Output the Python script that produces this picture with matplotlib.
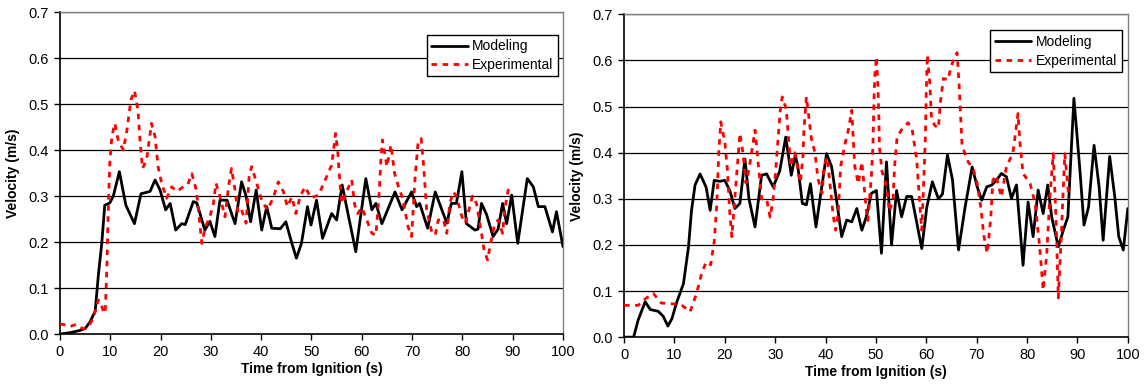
import matplotlib
matplotlib.use("Agg")
import matplotlib.pyplot as plt

plt.rcParams["font.family"] = ["Liberation Sans", "DejaVu Sans"]

# left panel
left_model_t = [0, 2, 4, 5, 6, 7, 7.6, 8.3, 8.9, 9.9, 10.6, 11.8, 13.1, 14.8, 16.1, 17.9, 18.9, 19.9,
                21.0, 21.9, 23.0, 24.2, 24.9, 26.5, 27.2, 28.8, 29.8, 30.8, 31.8, 33.2, 34.8, 36.1,
                37.0, 37.9, 39.0, 40.1, 41.1, 42.1, 43.8, 44.9, 46.1, 47.0, 48.0, 49.2, 49.9, 51.0,
                52.2, 54.0, 55.0, 56.1, 57.1, 58.8, 60.8, 62.0, 62.8, 64.0, 66.6, 68.0, 69.9, 70.9,
                71.5, 73.1, 74.6, 76.9, 77.8, 78.8, 79.9, 80.8, 82.5, 83.1, 83.8, 84.8, 86.1, 87.1,
                88.0, 88.8, 89.8, 91.0, 92.9, 94.1, 95.1, 96.4, 97.9, 98.7, 100]
left_model_v = [0.0, 0.003, 0.008, 0.012, 0.027, 0.05, 0.125, 0.197, 0.28, 0.285, 0.30, 0.353, 0.28,
                0.24, 0.305, 0.31, 0.335, 0.313, 0.27, 0.284, 0.226, 0.24, 0.238, 0.288, 0.285, 0.226,
                0.245, 0.212, 0.291, 0.291, 0.24, 0.331, 0.30, 0.244, 0.313, 0.226, 0.277, 0.23,
                0.229, 0.244, 0.197, 0.165, 0.197, 0.277, 0.237, 0.291, 0.208, 0.262, 0.248, 0.324,
                0.27, 0.179, 0.338, 0.27, 0.284, 0.24, 0.309, 0.27, 0.309, 0.277, 0.284, 0.23, 0.309,
                0.241, 0.284, 0.284, 0.353, 0.24, 0.226, 0.228, 0.284, 0.26, 0.212, 0.228, 0.284,
                0.24, 0.302, 0.197, 0.338, 0.32, 0.277, 0.277, 0.222, 0.266, 0.19]
left_exp_t = [0, 1.0, 1.9, 3.2, 4.6, 5.6, 6.6, 7.6, 8.1, 8.7, 9.0, 9.3, 9.6, 9.9, 10.3, 10.9, 11.6,
              12.6, 13.3, 14.1, 14.8, 15.5, 15.9, 16.4, 17.2, 18.2, 18.9, 19.5, 20.2, 21.2, 22.2,
              23.2, 24.5, 25.4, 26.2, 27.1, 28.2, 28.9, 29.8, 30.5, 31.0, 31.8, 32.8, 33.5, 34.1,
              34.8, 35.4, 36.1, 37.0, 37.6, 38.1, 39.1, 40.1, 41.2, 42.4, 43.4, 44.4, 45.2, 46.1,
              46.9, 47.7, 48.7, 49.9, 51.4, 53.0, 54.0, 54.8, 55.2, 55.5, 56.0, 57.0, 58.0, 58.6,
              59.2, 60.0, 61.0, 62.0, 62.8, 63.4, 63.8, 64.1, 65.0, 65.8, 66.5, 67.3, 68.1, 69.2,
              69.9, 70.6, 71.2, 71.8, 72.3, 72.9, 73.9, 74.6, 75.2, 76.2, 76.9, 77.5, 78.2, 78.8,
              79.9, 80.6, 81.3, 82.0, 82.8, 83.8, 84.3, 85.0, 85.6, 86.3, 87.1, 88.0, 88.4, 89.1,
              89.5]
left_exp_v = [0.022, 0.02, 0.016, 0.021, 0.011, 0.016, 0.034, 0.074, 0.07, 0.045, 0.05, 0.139, 0.27,
              0.371, 0.429, 0.458, 0.42, 0.40, 0.443, 0.509, 0.529, 0.487, 0.422, 0.36, 0.378,
              0.458, 0.429, 0.364, 0.328, 0.295, 0.32, 0.31, 0.32, 0.325, 0.349, 0.313, 0.197,
              0.233, 0.255, 0.284, 0.328, 0.30, 0.255, 0.32, 0.36, 0.313, 0.263, 0.27, 0.241,
              0.342, 0.364, 0.328, 0.291, 0.27, 0.296, 0.331, 0.31, 0.277, 0.298, 0.262, 0.298,
              0.32, 0.296, 0.302, 0.342, 0.367, 0.436, 0.40, 0.35, 0.284, 0.31, 0.335, 0.28, 0.262,
              0.275, 0.248, 0.219, 0.215, 0.298, 0.378, 0.422, 0.364, 0.411, 0.35, 0.32, 0.296,
              0.233, 0.212, 0.342, 0.418, 0.425, 0.364, 0.27, 0.222, 0.215, 0.248, 0.25, 0.219,
              0.284, 0.309, 0.30, 0.255, 0.241, 0.27, 0.30, 0.284, 0.219, 0.183, 0.161, 0.197,
              0.233, 0.248, 0.219, 0.27, 0.313, 0.30]

# right panel
right_model_t = [0, 1.9, 2.8, 4.2, 5.2, 6.8, 7.8, 8.7, 9.5, 10.5, 11.8, 12.8, 13.4, 14.1, 15.1, 16.3,
                 17.1, 17.9, 19.0, 20.0, 21.0, 22.0, 23.0, 24.0, 24.8, 26.0, 27.3, 28.3, 29.6, 30.9,
                 32.1, 33.2, 34.0, 34.5, 35.4, 36.2, 37.0, 38.1, 40.2, 41.2, 42.2, 43.2, 44.2, 45.2,
                 46.2, 47.2, 48.1, 49.1, 50.1, 51.1, 52.1, 53.1, 54.1, 55.1, 56.1, 57.1, 59.1, 60.1,
                 61.2, 62.4, 63.2, 64.2, 65.2, 66.4, 67.7, 69.1, 70.1, 71.0, 72.0, 73.0, 73.9, 74.9,
                 75.9, 76.9, 77.9, 79.2, 80.2, 81.2, 82.2, 83.2, 84.1, 84.9, 86.2, 87.2, 88.1, 89.3,
                 90.5, 91.3, 92.2, 93.3, 94.3, 95.1, 96.4, 97.4, 98.2, 99.1, 100]
right_model_v = [0.0, 0.0, 0.037, 0.077, 0.06, 0.056, 0.045, 0.024, 0.04, 0.077, 0.116, 0.196, 0.275,
                 0.33, 0.354, 0.325, 0.275, 0.34, 0.338, 0.34, 0.318, 0.279, 0.29, 0.386, 0.30,
                 0.239, 0.351, 0.354, 0.326, 0.36, 0.434, 0.351, 0.395, 0.37, 0.29, 0.287, 0.333,
                 0.239, 0.398, 0.37, 0.296, 0.218, 0.254, 0.25, 0.279, 0.232, 0.261, 0.312, 0.318,
                 0.182, 0.38, 0.2, 0.318, 0.261, 0.305, 0.305, 0.192, 0.282, 0.337, 0.30, 0.31,
                 0.395, 0.341, 0.189, 0.282, 0.369, 0.326, 0.297, 0.326, 0.33, 0.34, 0.355, 0.348,
                 0.301, 0.33, 0.156, 0.293, 0.218, 0.319, 0.268, 0.33, 0.26, 0.196, 0.232, 0.261,
                 0.518, 0.361, 0.243, 0.282, 0.416, 0.326, 0.21, 0.392, 0.305, 0.218, 0.189, 0.279]
right_exp_t = [0, 2.8, 4.2, 5.8, 7.4, 10.1, 11.4, 13.1, 14.4, 15.4, 16.3, 17.2, 17.9, 18.4, 18.8,
               19.2, 20.0, 20.5, 21.0, 21.4, 22.2, 23.0, 23.6, 24.2, 24.9, 26.0, 26.6, 27.3, 28.3,
               29.0, 29.6, 30.1, 30.5, 31.0, 31.4, 32.2, 32.6, 33.1, 33.9, 34.5, 35.0, 35.5, 35.7,
               36.2, 36.9, 37.2, 37.9, 38.5, 39.3, 39.7, 40.3, 40.9, 41.5, 42.0, 42.5, 43.0, 43.8,
               44.5, 45.2, 45.5, 45.8, 46.5, 47.2, 47.5, 48.1, 48.4, 49.1, 49.4, 49.6, 49.8, 50.1,
               50.4, 50.6, 50.7, 51.2, 52.1, 52.7, 53.4, 53.7, 54.2, 55.4, 56.4, 57.2, 58.1, 58.6,
               59.1, 59.8, 60.0, 60.2, 60.7, 61.0, 61.6, 62.4, 62.8, 63.4, 64.3, 65.0, 66.1, 66.5,
               66.9, 67.1, 68.3, 69.3, 70.1, 70.9, 71.4, 72.1, 72.5, 72.8, 73.2, 73.8, 74.9, 75.9,
               77.2, 78.2, 78.6, 79.2, 80.6, 81.6, 82.5, 83.2, 83.9, 84.5, 85.2, 85.8, 86.2, 86.8,
               87.1, 87.5, 88.3]
right_exp_v = [0.069, 0.069, 0.083, 0.095, 0.074, 0.072, 0.07, 0.055, 0.095, 0.138, 0.163, 0.157,
               0.207, 0.285, 0.398, 0.467, 0.424, 0.365, 0.268, 0.218, 0.33, 0.442, 0.40, 0.334,
               0.37, 0.449, 0.38, 0.30, 0.30, 0.26, 0.30, 0.36, 0.42, 0.49, 0.521, 0.495, 0.438,
               0.37, 0.40, 0.365, 0.335, 0.39, 0.448, 0.521, 0.457, 0.43, 0.40, 0.343, 0.312, 0.37,
               0.39, 0.33, 0.265, 0.232, 0.268, 0.37, 0.416, 0.448, 0.492, 0.43, 0.37, 0.333, 0.38,
               0.346, 0.275, 0.253, 0.35, 0.414, 0.51, 0.572, 0.608, 0.544, 0.47, 0.412, 0.36,
               0.326, 0.272, 0.30, 0.37, 0.434, 0.455, 0.465, 0.45, 0.384, 0.305, 0.232, 0.426,
               0.535, 0.612, 0.55, 0.48, 0.46, 0.453, 0.51, 0.561, 0.558, 0.59, 0.617, 0.55, 0.458,
               0.415, 0.38, 0.366, 0.333, 0.275, 0.221, 0.182, 0.225, 0.26, 0.34, 0.351, 0.304,
               0.369, 0.40, 0.485, 0.42, 0.355, 0.333, 0.29, 0.196, 0.102, 0.18, 0.30, 0.398, 0.24,
               0.085, 0.22, 0.30, 0.398, 0.30]

x_ticks = list(range(0, 101, 10))
y_ticks = [0.0, 0.1, 0.2, 0.3, 0.4, 0.5, 0.6, 0.7]


def panel(ax, mt, mv, et, ev, legend_anchor):
    ax.plot(mt, mv, color="black", lw=2.0, label="Modeling", zorder=3,
            solid_joinstyle="round", solid_capstyle="round")
    ax.plot(et, ev, color="#FF0000", lw=2.0, ls=(0, (2, 2)), label="Experimental", zorder=4,
            dash_joinstyle="round")
    ax.set_xlim(0, 100)
    ax.set_ylim(0, 0.7)
    ax.set_xticks(x_ticks)
    ax.set_yticks(y_ticks)
    ax.set_yticklabels([f"{v:.1f}" for v in y_ticks])
    ax.tick_params(direction="out", length=4, width=1, labelsize=10.5, pad=4)
    for y in y_ticks[1:]:
        ax.axhline(y, color="black", lw=0.9, zorder=1)
    for s in ("left", "bottom"):
        ax.spines[s].set_color("black")
        ax.spines[s].set_linewidth(1.2)
    for s in ("top", "right"):
        ax.spines[s].set_color("#808080")
        ax.spines[s].set_linewidth(1.0)
    ax.set_xlabel("Time from Ignition (s)", fontsize=10, fontweight="bold", labelpad=2)
    ax.set_ylabel("Velocity (m/s)", fontsize=10, fontweight="bold", labelpad=6)
    leg = ax.legend(loc="upper right", bbox_to_anchor=legend_anchor, fontsize=10, frameon=True,
                    fancybox=False, edgecolor="black", framealpha=1, borderpad=0.35,
                    handlelength=2.6, handletextpad=0.3, labelspacing=0.3, borderaxespad=0)
    leg.get_frame().set_linewidth(1.0)


fig = plt.figure(figsize=(11.45, 3.88), dpi=100)
ax1 = fig.add_axes([0.0524, 0.139, 0.4393, 0.830])
ax2 = fig.add_axes([0.545, 0.131, 0.440, 0.832])
panel(ax1, left_model_t, left_model_v, left_exp_t, left_exp_v, (0.99, 0.93))
panel(ax2, right_model_t, right_model_v, right_exp_t, right_exp_v, (0.988, 0.95))

fig.savefig("out.png", dpi=100)
